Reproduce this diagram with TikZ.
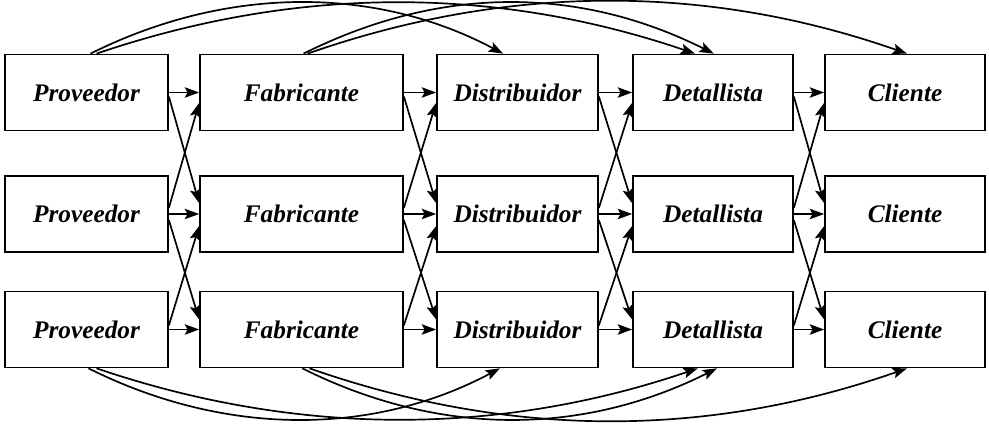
\documentclass[tikz,border=0pt]{standalone}
\usepackage{fontspec}
\setmainfont{Liberation Serif}
\usetikzlibrary{arrows.meta}
\tikzset{
  etapa/.style={draw, line width=1.2pt, minimum height=1.9cm, inner sep=0pt,
    font=\fontsize{18}{20}\selectfont\bfseries\itshape},
  flujo/.style={line width=1.2pt, -{Stealth[length=3.6mm,width=2.6mm,inset=0.7mm]}}
}
\begin{document}
\begin{tikzpicture}
  \useasboundingbox (0,0) rectangle (24.725,10.625);
  \foreach \r/\y in {1/8.3125,2/5.275,3/2.3875} {
    \node[etapa,minimum width=4.075cm] (prov\r) at (2.1625,\y) {Proveedor};
    \node[etapa,minimum width=5.075cm] (fab\r) at (7.5375,\y) {Fabricante};
    \node[etapa,minimum width=4.025cm] (dist\r) at (12.9375,\y) {Distribuidor};
    \node[etapa,minimum width=4cm] (det\r) at (17.825,\y) {Detallista};
    \node[etapa,minimum width=4cm] (cli\r) at (22.625,\y) {Cliente};
  }
  \foreach \a/\b in {prov/fab,fab/dist,dist/det,det/cli} {
    \foreach \r in {1,2,3}
      \draw[flujo] (\a\r.east) -- (\b\r.west);
    \draw[flujo] ([yshift=-1mm]\a1.east) -- ([yshift=2.7mm]\b2.west);
    \draw[flujo] ([yshift=-1.5mm]\a2.east) -- ([yshift=2.5mm]\b3.west);
    \draw[flujo] ([yshift=1.5mm]\a2.east) -- ([yshift=-2.6mm]\b1.west);
    \draw[flujo] ([yshift=1mm]\a3.east) -- ([yshift=-3mm]\b2.west);
  }
  \draw[flujo] ([xshift=1mm]prov1.north)
    .. controls +(3.4,1.7) and +(-3.2,1.7) .. ([xshift=-3.6mm]dist1.north);
  \draw[flujo] ([xshift=2.5mm]prov1.north)
    .. controls +(5,1.7) and +(-5,1.7) .. ([xshift=-4.5mm]det1.north);
  \draw[flujo] ([xshift=0.5mm]fab1.north)
    .. controls +(3.4,1.7) and +(-3.4,1.7) .. ([xshift=0.2mm]det1.north);
  \draw[flujo] ([xshift=1.5mm]fab1.north)
    .. controls +(5,1.75) and +(-5,1.75) .. ([xshift=0.5mm]cli1.north);
  \draw[flujo] ([xshift=0.5mm]prov3.south)
    .. controls +(3.4,-1.7) and +(-3.2,-1.7) .. ([xshift=-4.4mm]dist3.south);
  \draw[flujo] ([xshift=2.5mm]prov3.south)
    .. controls +(5,-1.7) and +(-5,-1.7) .. ([xshift=-3.8mm]det3.south);
  \draw[flujo] ([xshift=0.2mm]fab3.south)
    .. controls +(3.4,-1.7) and +(-3.4,-1.7) .. ([xshift=1mm]det3.south);
  \draw[flujo] ([xshift=2mm]fab3.south)
    .. controls +(5,-1.75) and +(-5,-1.75) .. ([xshift=0.5mm]cli3.south);
\end{tikzpicture}
\end{document}
